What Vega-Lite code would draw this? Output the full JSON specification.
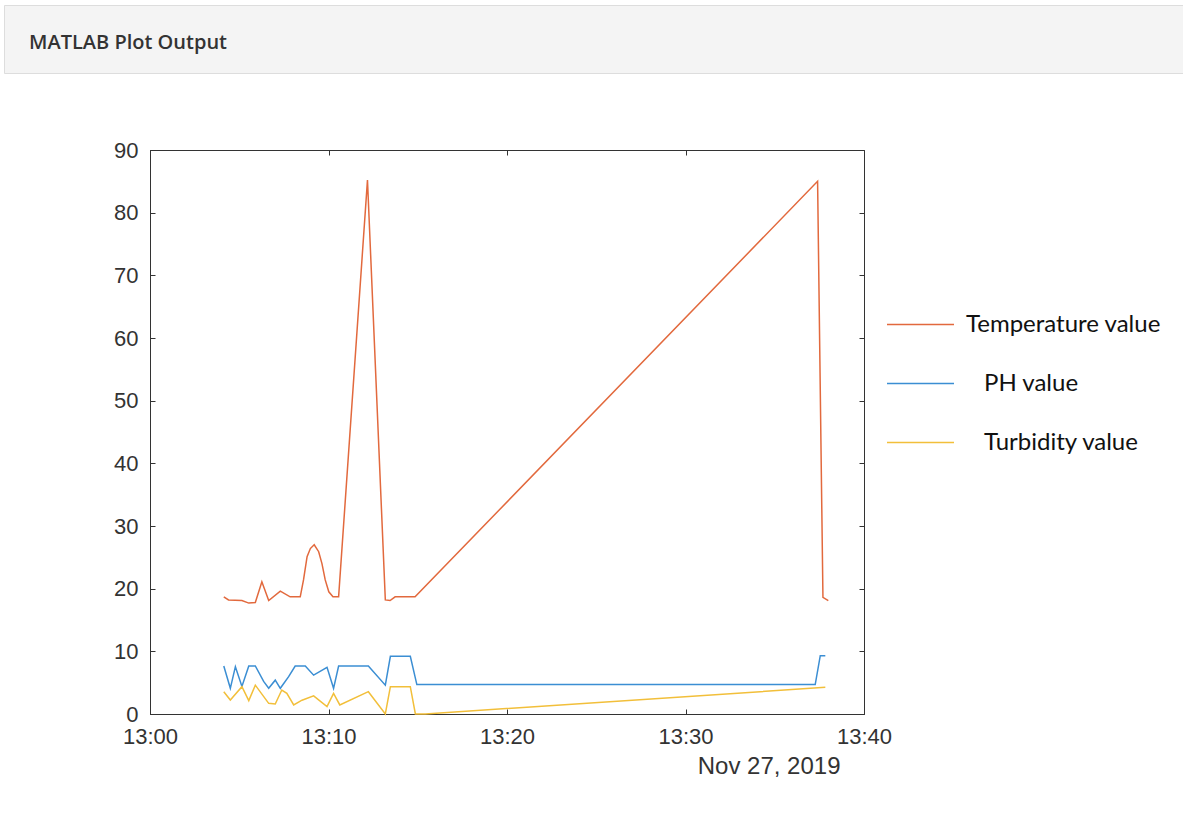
{
  "$schema": "https://vega.github.io/schema/vega-lite/v6.json",
  "background": "white",
  "padding": {"left": 3, "top": 4, "right": 0, "bottom": 0},
  "spacing": 64,
  "config": {"view": {"stroke": null}, "font": "Liberation Sans"},
  "vconcat": [
    {
      "width": 1179,
      "height": 68,
      "view": {"fill": "#f4f4f4", "stroke": "#dddddd"},
      "title": {"text": "MATLAB Plot Output", "anchor": "start", "orient": "top", "offset": -64, "dx": 25, "baseline": "alphabetic", "font": "Open Sans", "fontSize": 20, "fontWeight": 600, "color": "#333333"},
      "data": {"values": []},
      "mark": "point",
      "encoding": {}
    },
    {
      "spacing": 20,
      "hconcat": [
        {
          "width": 25,
          "height": 10,
          "data": {"values": []},
          "mark": "point",
          "encoding": {}
        },
        {
          "width": 714,
          "height": 564,
          "view": {"stroke": "#333333", "strokeWidth": 1},
          "data": {
            "values": [
              {"t": "2019-11-27T13:04:08", "s": "Temperature value", "v": 18.7},
              {"t": "2019-11-27T13:04:24", "s": "Temperature value", "v": 18.2},
              {"t": "2019-11-27T13:05:09", "s": "Temperature value", "v": 18.1},
              {"t": "2019-11-27T13:05:32", "s": "Temperature value", "v": 17.7},
              {"t": "2019-11-27T13:05:54", "s": "Temperature value", "v": 17.8},
              {"t": "2019-11-27T13:06:16", "s": "Temperature value", "v": 21.1},
              {"t": "2019-11-27T13:06:39", "s": "Temperature value", "v": 18.1},
              {"t": "2019-11-27T13:07:18", "s": "Temperature value", "v": 19.6},
              {"t": "2019-11-27T13:07:51", "s": "Temperature value", "v": 18.7},
              {"t": "2019-11-27T13:08:25", "s": "Temperature value", "v": 18.7},
              {"t": "2019-11-27T13:08:36", "s": "Temperature value", "v": 21.4},
              {"t": "2019-11-27T13:08:48", "s": "Temperature value", "v": 25.1},
              {"t": "2019-11-27T13:08:59", "s": "Temperature value", "v": 26.4},
              {"t": "2019-11-27T13:09:12", "s": "Temperature value", "v": 27.0},
              {"t": "2019-11-27T13:09:27", "s": "Temperature value", "v": 25.9},
              {"t": "2019-11-27T13:09:38", "s": "Temperature value", "v": 24.0},
              {"t": "2019-11-27T13:09:49", "s": "Temperature value", "v": 21.4},
              {"t": "2019-11-27T13:10:01", "s": "Temperature value", "v": 19.5},
              {"t": "2019-11-27T13:10:15", "s": "Temperature value", "v": 18.7},
              {"t": "2019-11-27T13:10:34", "s": "Temperature value", "v": 18.7},
              {"t": "2019-11-27T13:12:11", "s": "Temperature value", "v": 85.2},
              {"t": "2019-11-27T13:13:11", "s": "Temperature value", "v": 18.2},
              {"t": "2019-11-27T13:13:27", "s": "Temperature value", "v": 18.1},
              {"t": "2019-11-27T13:13:44", "s": "Temperature value", "v": 18.7},
              {"t": "2019-11-27T13:14:51", "s": "Temperature value", "v": 18.7},
              {"t": "2019-11-27T13:37:24", "s": "Temperature value", "v": 85.0},
              {"t": "2019-11-27T13:37:42", "s": "Temperature value", "v": 18.6},
              {"t": "2019-11-27T13:38:00", "s": "Temperature value", "v": 18.1},
              {"t": "2019-11-27T13:04:08", "s": "PH value", "v": 7.66},
              {"t": "2019-11-27T13:04:30", "s": "PH value", "v": 4.1},
              {"t": "2019-11-27T13:04:47", "s": "PH value", "v": 7.55},
              {"t": "2019-11-27T13:05:09", "s": "PH value", "v": 4.4},
              {"t": "2019-11-27T13:05:32", "s": "PH value", "v": 7.66},
              {"t": "2019-11-27T13:05:54", "s": "PH value", "v": 7.66},
              {"t": "2019-11-27T13:06:22", "s": "PH value", "v": 5.2},
              {"t": "2019-11-27T13:06:39", "s": "PH value", "v": 4.1},
              {"t": "2019-11-27T13:07:01", "s": "PH value", "v": 5.4},
              {"t": "2019-11-27T13:07:18", "s": "PH value", "v": 4.1},
              {"t": "2019-11-27T13:07:46", "s": "PH value", "v": 5.96},
              {"t": "2019-11-27T13:08:08", "s": "PH value", "v": 7.66},
              {"t": "2019-11-27T13:08:42", "s": "PH value", "v": 7.66},
              {"t": "2019-11-27T13:09:10", "s": "PH value", "v": 6.2},
              {"t": "2019-11-27T13:09:55", "s": "PH value", "v": 7.45},
              {"t": "2019-11-27T13:10:17", "s": "PH value", "v": 4.1},
              {"t": "2019-11-27T13:10:34", "s": "PH value", "v": 7.66},
              {"t": "2019-11-27T13:12:14", "s": "PH value", "v": 7.66},
              {"t": "2019-11-27T13:13:11", "s": "PH value", "v": 4.6},
              {"t": "2019-11-27T13:13:28", "s": "PH value", "v": 9.2},
              {"t": "2019-11-27T13:14:35", "s": "PH value", "v": 9.2},
              {"t": "2019-11-27T13:14:57", "s": "PH value", "v": 4.7},
              {"t": "2019-11-27T13:37:16", "s": "PH value", "v": 4.7},
              {"t": "2019-11-27T13:37:33", "s": "PH value", "v": 9.3},
              {"t": "2019-11-27T13:37:50", "s": "PH value", "v": 9.3},
              {"t": "2019-11-27T13:04:08", "s": "Turbidity value", "v": 3.56},
              {"t": "2019-11-27T13:04:30", "s": "Turbidity value", "v": 2.23},
              {"t": "2019-11-27T13:05:09", "s": "Turbidity value", "v": 4.36},
              {"t": "2019-11-27T13:05:32", "s": "Turbidity value", "v": 2.13},
              {"t": "2019-11-27T13:05:54", "s": "Turbidity value", "v": 4.6},
              {"t": "2019-11-27T13:06:39", "s": "Turbidity value", "v": 1.7},
              {"t": "2019-11-27T13:07:01", "s": "Turbidity value", "v": 1.6},
              {"t": "2019-11-27T13:07:23", "s": "Turbidity value", "v": 3.83},
              {"t": "2019-11-27T13:07:40", "s": "Turbidity value", "v": 3.3},
              {"t": "2019-11-27T13:08:03", "s": "Turbidity value", "v": 1.44},
              {"t": "2019-11-27T13:08:31", "s": "Turbidity value", "v": 2.2},
              {"t": "2019-11-27T13:09:10", "s": "Turbidity value", "v": 2.9},
              {"t": "2019-11-27T13:09:55", "s": "Turbidity value", "v": 1.17},
              {"t": "2019-11-27T13:10:17", "s": "Turbidity value", "v": 3.3},
              {"t": "2019-11-27T13:10:38", "s": "Turbidity value", "v": 1.44},
              {"t": "2019-11-27T13:12:14", "s": "Turbidity value", "v": 3.56},
              {"t": "2019-11-27T13:13:11", "s": "Turbidity value", "v": 0},
              {"t": "2019-11-27T13:13:28", "s": "Turbidity value", "v": 4.36},
              {"t": "2019-11-27T13:14:35", "s": "Turbidity value", "v": 4.36},
              {"t": "2019-11-27T13:14:52", "s": "Turbidity value", "v": 0},
              {"t": "2019-11-27T13:15:25", "s": "Turbidity value", "v": 0},
              {"t": "2019-11-27T13:37:50", "s": "Turbidity value", "v": 4.25}
            ]
          },
          "resolve": {"axis": {"x": "independent", "y": "independent"}},
          "layer": [
            {
              "mark": {"type": "line", "strokeWidth": 1.5},
              "encoding": {
                "x": {
                  "field": "t", "type": "temporal",
                  "scale": {"domain": ["2019-11-27T13:00:00", "2019-11-27T13:40:00"]},
                  "axis": {"orient": "bottom", "format": "%H:%M", "values": ["2019-11-27T13:00:00", "2019-11-27T13:10:00", "2019-11-27T13:20:00", "2019-11-27T13:30:00", "2019-11-27T13:40:00"], "grid": false, "domainColor": "#333333", "ticks": false, "labelPadding": 12, "labelFont": "Liberation Sans", "labelFontSize": 22, "labelColor": "#333333", "labelFlush": false, "title": "Nov 27, 2019", "titleFont": "Liberation Sans", "titleFontSize": 24, "titleFontWeight": "normal", "titleColor": "#333333", "titleX": 690, "titleY": 59, "titleAlign": "right", "titleBaseline": "alphabetic"}
                },
                "y": {
                  "field": "v", "type": "quantitative",
                  "scale": {"domain": [0, 90]},
                  "axis": {"orient": "left", "values": [0, 10, 20, 30, 40, 50, 60, 70, 80, 90], "grid": false, "domainColor": "#333333", "ticks": false, "labelPadding": 12, "labelFont": "Liberation Sans", "labelFontSize": 22, "labelColor": "#333333", "title": "\u00a0", "titleAngle": 0, "titleX": -100, "titleY": 0, "titleAlign": "left"}
                },
                "color": {
                  "field": "s", "type": "nominal",
                  "scale": {"domain": ["Temperature value", "PH value", "Turbidity value"], "range": ["#E2693D", "#3B8ED3", "#F2BF3A"]},
                  "legend": {"orient": "none", "legendX": 882, "legendY": 285, "title": null, "symbolType": "stroke", "symbolSize": 4489, "symbolStrokeWidth": 1.5, "labelFont": "Lato", "labelFontSize": 24, "labelColor": "#111111", "labelOffset": 11, "labelLimit": 400, "rowPadding": 12, "padding": 0, "labelExpr": "datum.label == 'Temperature value' ? datum.label : '\u2800' + datum.label"}
                }
              }
            },
            {
              "mark": {"type": "line", "opacity": 0},
              "encoding": {
                "x": {"field": "t", "type": "temporal", "axis": {"orient": "top", "offset": -564, "values": ["2019-11-27T13:00:00", "2019-11-27T13:10:00", "2019-11-27T13:20:00", "2019-11-27T13:30:00", "2019-11-27T13:40:00"], "labels": false, "domain": false, "grid": false, "tickColor": "#333333", "tickSize": 5, "title": null}},
                "y": {"field": "v", "type": "quantitative", "axis": {"orient": "right", "offset": -714, "values": [0, 10, 20, 30, 40, 50, 60, 70, 80, 90], "labels": false, "domain": false, "grid": false, "tickColor": "#333333", "tickSize": 5, "title": null}}
              }
            },
            {
              "mark": {"type": "line", "opacity": 0},
              "encoding": {
                "x": {"field": "t", "type": "temporal", "axis": {"orient": "bottom", "offset": -564, "values": ["2019-11-27T13:00:00", "2019-11-27T13:10:00", "2019-11-27T13:20:00", "2019-11-27T13:30:00", "2019-11-27T13:40:00"], "labels": false, "domain": false, "grid": false, "tickColor": "#333333", "tickSize": 5, "title": null}},
                "y": {"field": "v", "type": "quantitative", "axis": {"orient": "left", "offset": -714, "values": [0, 10, 20, 30, 40, 50, 60, 70, 80, 90], "labels": false, "domain": false, "grid": false, "tickColor": "#333333", "tickSize": 5, "title": null}}
              }
            }
          ]
        }
      ]
    }
  ]
}
